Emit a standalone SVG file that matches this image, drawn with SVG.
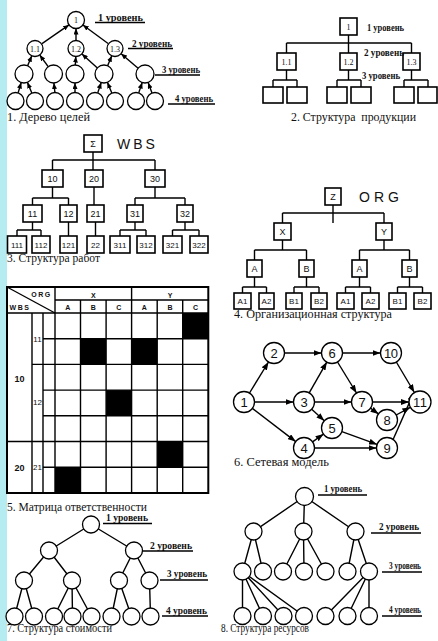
<svg xmlns="http://www.w3.org/2000/svg" width="438" height="641" viewBox="0 0 438 641">
<style>
.ln{stroke:#000;stroke-width:1.4;fill:none}
.bx{fill:#fff;stroke:#000;stroke-width:1.6}
.cr{fill:#fff;stroke:#000;stroke-width:1.3}
.ttl{font-family:"Liberation Serif",serif;font-size:12px;fill:#111;white-space:pre}
.lvl{font-family:"Liberation Serif",serif;font-size:9.5px;font-weight:bold;fill:#111}
.cl{font-family:"Liberation Serif",serif;font-size:8px;fill:#111;text-anchor:middle}
.sn{font-family:"Liberation Sans",sans-serif;font-size:9px;fill:#111;text-anchor:middle}
.s3{font-family:"Liberation Sans",sans-serif;font-size:8px;fill:#111;text-anchor:middle}
.nw{font-family:"Liberation Sans",sans-serif;font-size:13px;fill:#111;text-anchor:middle}
.big{font-family:"Liberation Sans",sans-serif;font-size:14px;fill:#111}
.hd{font-family:"Liberation Sans",sans-serif;font-size:7px;font-weight:bold;fill:#111;text-anchor:middle}
.blk{fill:#000}
</style>
<defs>
<marker id="ah" viewBox="0 0 8 6" refX="8" refY="3" markerWidth="8" markerHeight="6" markerUnits="userSpaceOnUse" orient="auto"><path d="M0,0 L8,3 L0,6 z" fill="#000"/></marker>
<marker id="ahs" viewBox="0 0 6 5" refX="6" refY="2.5" markerWidth="6" markerHeight="5" markerUnits="userSpaceOnUse" orient="auto"><path d="M0,0 L6,2.5 L0,5 z" fill="#000"/></marker>
</defs>
<rect x="0" y="0" width="438" height="641" fill="#fff"/>
<rect x="0" y="0" width="7" height="641" fill="#b4ecf1"/>

<!-- ===== Diagram 1: Дерево целей ===== -->
<g id="d1-edges" class="ln" marker-end="url(#ahs)">
<line x1="42" y1="43.6" x2="69" y2="24.9"/>
<line x1="76" y1="40" x2="76" y2="28.5"/>
<line x1="108.1" y1="43.5" x2="82.9" y2="25"/>
<line x1="27.6" y1="65.7" x2="31.8" y2="55.8"/>
<line x1="48.2" y1="66.7" x2="39.7" y2="55"/>
<line x1="75.3" y1="65" x2="75.8" y2="56.5"/>
<line x1="97.4" y1="67.9" x2="81.9" y2="53.9"/>
<line x1="107.6" y1="65.7" x2="111.8" y2="55.8"/>
<line x1="138.1" y1="68.2" x2="121.1" y2="53.7"/>
<line x1="18.1" y1="92.9" x2="21.2" y2="82.5"/>
<line x1="31.8" y1="93.1" x2="27.4" y2="82.3"/>
<line x1="54.9" y1="92.5" x2="53.9" y2="83"/>
<line x1="75" y1="92.5" x2="75" y2="83"/>
<line x1="97.7" y1="92.9" x2="101.2" y2="82.5"/>
<line x1="111.8" y1="93.1" x2="107.4" y2="82.3"/>
<line x1="138.7" y1="92.9" x2="142.2" y2="82.5"/>
<line x1="152" y1="93" x2="148.1" y2="82.6"/>
</g>
<g id="d1-n1"><circle class="cr" cx="76" cy="20" r="8.5"/><text class="cl" x="76" y="23">1</text></g>
<g id="d1-n11"><circle class="cr" cx="35" cy="48.5" r="8"/><text class="cl" x="35" y="51.5">1.1</text></g>
<g id="d1-n12"><circle class="cr" cx="76" cy="48.5" r="8"/><text class="cl" x="76" y="51.5">1.2</text></g>
<g id="d1-n13"><circle class="cr" cx="115" cy="48.5" r="8"/><text class="cl" x="115" y="51.5">1.3</text></g>
<g id="d1-l3a"><circle class="cr" cx="24" cy="74" r="9"/></g>
<g id="d1-l3b"><circle class="cr" cx="53.5" cy="74" r="9"/></g>
<g id="d1-l3c"><circle class="cr" cx="75" cy="74" r="9"/></g>
<g id="d1-l3d"><circle class="cr" cx="104" cy="74" r="9"/></g>
<g id="d1-l3e"><circle class="cr" cx="145" cy="74" r="9"/></g>
<g id="d1-l4a"><circle class="cr" cx="15.5" cy="101" r="8.5"/></g>
<g id="d1-l4b"><circle class="cr" cx="35" cy="101" r="8.5"/></g>
<g id="d1-l4c"><circle class="cr" cx="55" cy="101" r="8.5"/></g>
<g id="d1-l4d"><circle class="cr" cx="75" cy="101" r="8.5"/></g>
<g id="d1-l4e"><circle class="cr" cx="95" cy="101" r="8.5"/></g>
<g id="d1-l4f"><circle class="cr" cx="115" cy="101" r="8.5"/></g>
<g id="d1-l4g"><circle class="cr" cx="136" cy="101" r="8.5"/></g>
<g id="d1-l4h"><circle class="cr" cx="155" cy="101" r="8.5"/></g>
<g id="d1-labels">
<text class="lvl" x="98" y="20.5" textLength="45" lengthAdjust="spacingAndGlyphs">1 уровень</text><line class="ln" x1="95" y1="22.5" x2="145" y2="22.5" stroke-width="1"/>
<text class="lvl" x="132" y="46.5" textLength="40" lengthAdjust="spacingAndGlyphs">2 уровень</text><line class="ln" x1="128" y1="48.5" x2="173" y2="48.5" stroke-width="1"/>
<text class="lvl" x="162" y="73" textLength="38" lengthAdjust="spacingAndGlyphs">3 уровень</text><line class="ln" x1="155" y1="75" x2="200" y2="75" stroke-width="1"/>
<text class="lvl" x="175" y="101.5" textLength="38" lengthAdjust="spacingAndGlyphs">4 уровень</text><line class="ln" x1="168" y1="104" x2="215" y2="104" stroke-width="1"/>
<text class="ttl" x="7" y="121" textLength="83" lengthAdjust="spacingAndGlyphs">1. Дерево целей</text>
</g>

<!-- ===== Diagram 2: Структура продукции ===== -->
<g id="d2-edges" class="ln">
<path d="M348.5 35V43M286.5 43H411.5M286.5 43V53M348.5 43V53M411.5 43V53"/>
<path d="M286.5 70V80M273 80H297M273 80V87M297 80V87"/>
<path d="M348.5 70V80M337 80H361M337 80V87M361 80V87"/>
<path d="M411.5 70V80M404 80H428M404 80V87M428 80V87"/>
</g>
<g id="d2-n1"><rect class="bx" x="340" y="18" width="17" height="17"/><text class="cl" x="348.5" y="29.5">1</text></g>
<g id="d2-n11"><rect class="bx" x="277" y="53" width="19" height="17"/><text class="cl" x="286.5" y="64.5">1.1</text></g>
<g id="d2-n12"><rect class="bx" x="340" y="53" width="17" height="17"/><text class="cl" x="348.5" y="64.5">1.2</text></g>
<g id="d2-n13"><rect class="bx" x="403" y="53" width="17" height="17"/><text class="cl" x="411.5" y="64.5">1.3</text></g>
<g id="d2-l3a"><rect class="bx" x="263" y="87" width="20" height="16"/></g>
<g id="d2-l3b"><rect class="bx" x="287" y="87" width="20" height="16"/></g>
<g id="d2-l3c"><rect class="bx" x="327" y="87" width="20" height="16"/></g>
<g id="d2-l3d"><rect class="bx" x="351" y="87" width="20" height="16"/></g>
<g id="d2-l3e"><rect class="bx" x="394" y="87" width="20" height="16"/></g>
<g id="d2-l3f"><rect class="bx" x="418" y="87" width="19" height="16"/></g>
<g id="d2-labels">
<text class="lvl" x="367" y="31" textLength="37" lengthAdjust="spacingAndGlyphs">1 уровень</text>
<text class="lvl" x="364" y="55.5" textLength="40" lengthAdjust="spacingAndGlyphs">2 уровень</text>
<text class="lvl" x="362" y="79" textLength="38" lengthAdjust="spacingAndGlyphs">3 уровень</text>
<text class="ttl" x="291" y="121" textLength="125" lengthAdjust="spacingAndGlyphs">2. Структура  продукции</text>
</g>

<!-- ===== Diagram 3: WBS ===== -->
<g id="d3-edges" class="ln">
<path d="M93 152V170M52.5 160H155M52.5 160V170M155 160V170"/>
<path d="M52.5 187V198M32.5 198H68.5M32.5 198V205M68.5 198V205M94 187V205"/>
<path d="M155 187V198M135 198H185M135 198V205M185 198V205"/>
<path d="M32.5 222V230M17 230H41M17 230V236M41 230V236M68.5 222V236M95.5 222V236"/>
<path d="M135 222V230M120 230H146M120 230V236M146 230V236"/>
<path d="M185 222V230M172.5 230H199M172.5 230V236M199 230V236"/>
</g>
<g id="d3-sigma"><rect class="bx" x="84" y="135" width="18" height="17"/><text class="sn" x="93" y="147" font-family="DejaVu Sans" font-size="10">Σ</text></g>
<text class="big" x="117" y="148.5" letter-spacing="3">WBS</text>
<g id="d3-10"><rect class="bx" x="42" y="170" width="21" height="17"/><text class="sn" x="52.5" y="181.5">10</text></g>
<g id="d3-20"><rect class="bx" x="85" y="170" width="18" height="17"/><text class="sn" x="94" y="181.5">20</text></g>
<g id="d3-30"><rect class="bx" x="145" y="170" width="20" height="17"/><text class="sn" x="155" y="181.5">30</text></g>
<g id="d3-11"><rect class="bx" x="23" y="205" width="19" height="17"/><text class="sn" x="32.5" y="216.5">11</text></g>
<g id="d3-12"><rect class="bx" x="60" y="205" width="17" height="17"/><text class="sn" x="68.5" y="216.5">12</text></g>
<g id="d3-21"><rect class="bx" x="87" y="205" width="17" height="17"/><text class="sn" x="95.5" y="216.5">21</text></g>
<g id="d3-31"><rect class="bx" x="127" y="205" width="16" height="17"/><text class="sn" x="135" y="216.5">31</text></g>
<g id="d3-32"><rect class="bx" x="177" y="205" width="16" height="17"/><text class="sn" x="185" y="216.5">32</text></g>
<g id="d3-111"><rect class="bx" x="7.5" y="236" width="19" height="17"/><text class="s3" x="17" y="247.5">111</text></g>
<g id="d3-112"><rect class="bx" x="32" y="236" width="18" height="17"/><text class="s3" x="41" y="247.5">112</text></g>
<g id="d3-121"><rect class="bx" x="60" y="236" width="17" height="17"/><text class="s3" x="68.5" y="247.5">121</text></g>
<g id="d3-22"><rect class="bx" x="87" y="236" width="17" height="17"/><text class="s3" x="95.5" y="247.5">22</text></g>
<g id="d3-311"><rect class="bx" x="110" y="236" width="20" height="17"/><text class="s3" x="120" y="247.5">311</text></g>
<g id="d3-312"><rect class="bx" x="137" y="236" width="18" height="17"/><text class="s3" x="146" y="247.5">312</text></g>
<g id="d3-321"><rect class="bx" x="163" y="236" width="19" height="17"/><text class="s3" x="172.5" y="247.5">321</text></g>
<g id="d3-322"><rect class="bx" x="190" y="236" width="18" height="17"/><text class="s3" x="199" y="247.5">322</text></g>
<text class="ttl" x="7" y="262" textLength="93" lengthAdjust="spacingAndGlyphs">3. Структура работ</text>

<!-- ===== Diagram 4: ORG ===== -->
<g id="d4-edges" class="ln">
<path d="M333 205V223M282.5 213H384M282.5 213V223M384 213V223"/>
<path d="M282.5 240V250M254.5 250H306.5M254.5 250V260M306.5 250V260"/>
<path d="M384 240V250M359.5 250H409.5M359.5 250V260M409.5 250V260"/>
<path d="M254.5 277V287M242.5 287H266.5M242.5 287V293M266.5 287V293"/>
<path d="M306.5 277V287M294 287H319M294 287V293M319 287V293"/>
<path d="M359.5 277V287M345.5 287H370.5M345.5 287V293M370.5 287V293"/>
<path d="M409.5 277V287M397.5 287H422.5M397.5 287V293M422.5 287V293"/>
</g>
<g id="d4-z"><rect class="bx" x="325" y="188" width="16" height="17"/><text class="sn" x="333" y="199.5">Z</text></g>
<text class="big" x="359" y="202" font-size="16" letter-spacing="4">ORG</text>
<g id="d4-x"><rect class="bx" x="274" y="223" width="17" height="17"/><text class="sn" x="282.5" y="234.5">X</text></g>
<g id="d4-y"><rect class="bx" x="376" y="223" width="16" height="17"/><text class="sn" x="384" y="234.5">Y</text></g>
<g id="d4-xa"><rect class="bx" x="247" y="260" width="15" height="17"/><text class="sn" x="254.5" y="271.5">A</text></g>
<g id="d4-xb"><rect class="bx" x="299" y="260" width="15" height="17"/><text class="sn" x="306.5" y="271.5">B</text></g>
<g id="d4-ya"><rect class="bx" x="352" y="260" width="15" height="17"/><text class="sn" x="359.5" y="271.5">A</text></g>
<g id="d4-yb"><rect class="bx" x="402" y="260" width="15" height="17"/><text class="sn" x="409.5" y="271.5">B</text></g>
<g id="d4-xa1"><rect class="bx" x="234" y="293" width="17" height="16"/><text class="s3" x="242.5" y="304">A1</text></g>
<g id="d4-xa2"><rect class="bx" x="259" y="293" width="15" height="16"/><text class="s3" x="266.5" y="304">A2</text></g>
<g id="d4-xb1"><rect class="bx" x="286" y="293" width="16" height="16"/><text class="s3" x="294" y="304">B1</text></g>
<g id="d4-xb2"><rect class="bx" x="311" y="293" width="16" height="16"/><text class="s3" x="319" y="304">B2</text></g>
<g id="d4-ya1"><rect class="bx" x="337" y="293" width="17" height="16"/><text class="s3" x="345.5" y="304">A1</text></g>
<g id="d4-ya2"><rect class="bx" x="362" y="293" width="17" height="16"/><text class="s3" x="370.5" y="304">A2</text></g>
<g id="d4-yb1"><rect class="bx" x="389" y="293" width="17" height="16"/><text class="s3" x="397.5" y="304">B1</text></g>
<g id="d4-yb2"><rect class="bx" x="414" y="293" width="17" height="16"/><text class="s3" x="422.5" y="304">B2</text></g>
<text class="ttl" x="234" y="318" textLength="158" lengthAdjust="spacingAndGlyphs">4. Организационная структура</text>

<!-- ===== Diagram 5: Матрица ответственности ===== -->
<g id="d5-matrix">
<rect class="blk" x="182.7" y="313" width="25.6" height="25.7"/>
<rect class="blk" x="80.5" y="338.7" width="25.6" height="25.7"/>
<rect class="blk" x="131.6" y="338.7" width="25.6" height="25.7"/>
<rect class="blk" x="106.1" y="390.1" width="25.5" height="25.7"/>
<rect class="blk" x="157.2" y="441.5" width="25.5" height="25.7"/>
<rect class="blk" x="55" y="467.2" width="25.5" height="25.8"/>
<path class="ln" stroke-width="1.5" d="M55 300H208.3M7 313H208.3M43 338.7H208.3M32 364.4H208.3M43 390.1H208.3M43 415.8H208.3M7 441.5H208.3M43 467.2H208.3"/>
<path class="ln" stroke-width="1.5" d="M32 313V493M43 313V493M55 287V493M80.5 300V493M106.1 300V493M131.6 287V493M157.2 300V493M182.7 300V493"/>
<path class="ln" stroke-width="1.3" d="M7 287L55 313"/>
<rect x="7" y="287" width="201.3" height="206" fill="none" stroke="#000" stroke-width="2"/>
<text class="hd" x="41.5" y="297" letter-spacing="1.5">ORG</text>
<text class="hd" x="20" y="310" letter-spacing="1.5">WBS</text>
<text class="hd" x="93.3" y="297.5" font-size="8">X</text>
<text class="hd" x="170" y="297.5" font-size="8">Y</text>
<text class="hd" x="67.7" y="310">A</text>
<text class="hd" x="93.3" y="310">B</text>
<text class="hd" x="118.8" y="310">C</text>
<text class="hd" x="144.4" y="310">A</text>
<text class="hd" x="170" y="310">B</text>
<text class="hd" x="195.5" y="310">C</text>
<text class="sn" x="19.5" y="382" font-weight="bold" font-size="10">10</text>
<text class="sn" x="19.5" y="471" font-weight="bold" font-size="10">20</text>
<text class="s3" x="37.5" y="342" font-size="7">11</text>
<text class="s3" x="37.5" y="405" font-size="7">12</text>
<text class="s3" x="37.5" y="470" font-size="7">21</text>
</g>
<text class="ttl" x="7" y="510.5" textLength="140" lengthAdjust="spacingAndGlyphs">5. Матрица ответственности</text>

<!-- ===== Diagram 6: Сетевая модель ===== -->
<g id="d6-edges" class="ln" marker-end="url(#ah)">
<line x1="249.5" y1="393" x2="268.5" y2="362"/>
<line x1="254.5" y1="402" x2="293.5" y2="402"/>
<line x1="252.3" y1="408.4" x2="295.7" y2="441.6"/>
<line x1="284.5" y1="353" x2="321.5" y2="353"/>
<line x1="309.2" y1="392.9" x2="326.8" y2="362.1"/>
<line x1="314.5" y1="402" x2="351.5" y2="402"/>
<line x1="311.7" y1="409.2" x2="324.3" y2="420.8"/>
<line x1="342.5" y1="353" x2="380.5" y2="353"/>
<line x1="337.5" y1="362" x2="356.5" y2="393"/>
<line x1="396.3" y1="362" x2="414.4" y2="392.5"/>
<line x1="372.5" y1="402" x2="409" y2="402"/>
<line x1="370.5" y1="408.1" x2="378.5" y2="413.9"/>
<line x1="396.2" y1="415" x2="410.3" y2="407.3"/>
<line x1="393.1" y1="439.5" x2="413.6" y2="393.1"/>
<line x1="312.5" y1="441.9" x2="323.5" y2="434.1"/>
<line x1="314.5" y1="448" x2="376.5" y2="448"/>
<line x1="341.9" y1="431.6" x2="377.1" y2="444.4"/>
</g>
<g id="d6-n1"><circle class="cr" cx="244" cy="402" r="10.5"/><text class="nw" x="244" y="406.7">1</text></g>
<g id="d6-n2"><circle class="cr" cx="274" cy="353" r="10.5"/><text class="nw" x="274" y="357.7">2</text></g>
<g id="d6-n3"><circle class="cr" cx="304" cy="402" r="10.5"/><text class="nw" x="304" y="406.7">3</text></g>
<g id="d6-n4"><circle class="cr" cx="304" cy="448" r="10.5"/><text class="nw" x="304" y="452.7">4</text></g>
<g id="d6-n5"><circle class="cr" cx="332" cy="428" r="10.5"/><text class="nw" x="332" y="432.7">5</text></g>
<g id="d6-n6"><circle class="cr" cx="332" cy="353" r="10.5"/><text class="nw" x="332" y="357.7">6</text></g>
<g id="d6-n7"><circle class="cr" cx="362" cy="402" r="10.5"/><text class="nw" x="362" y="406.7">7</text></g>
<g id="d6-n8"><circle class="cr" cx="387" cy="420" r="10.5"/><text class="nw" x="387" y="424.7">8</text></g>
<g id="d6-n9"><circle class="cr" cx="387" cy="448" r="10.5"/><text class="nw" x="387" y="452.7">9</text></g>
<g id="d6-n10"><circle class="cr" cx="391" cy="353" r="10.5"/><text class="nw" x="391" y="357.7" textLength="14">10</text></g>
<g id="d6-n11"><circle class="cr" cx="420" cy="402" r="11"/><text class="nw" x="420" y="406.7" textLength="14">11</text></g>
<text class="ttl" x="234" y="466" textLength="95" lengthAdjust="spacingAndGlyphs">6. Сетевая модель</text>

<!-- ===== Diagram 7: Структура стоимости ===== -->
<g id="d7-edges" class="ln">
<path d="M91 524.5L49 550.5M91 524.5L134 550.5"/>
<path d="M49 550.5L24 580.5M49 550.5L72 580.5M134 550.5L119 580.5M134 550.5L149.5 580.5"/>
<path d="M24 580.5L14.5 616.5M24 580.5L34 616.5M72 580.5L54 616.5M72 580.5L72.5 616.5M72 580.5L91.5 616.5M119 580.5L111.5 616.5M119 580.5L131.5 616.5M149.5 580.5L150.5 616.5"/>
</g>
<g id="d7-n1"><circle class="cr" cx="91" cy="524.5" r="8.5"/></g>
<g id="d7-n2a"><circle class="cr" cx="49" cy="550.5" r="8.5"/></g>
<g id="d7-n2b"><circle class="cr" cx="134" cy="550.5" r="8.5"/></g>
<g id="d7-n3a"><circle class="cr" cx="24" cy="580.5" r="8.5"/></g>
<g id="d7-n3b"><circle class="cr" cx="72" cy="580.5" r="8.5"/></g>
<g id="d7-n3c"><circle class="cr" cx="119" cy="580.5" r="8.5"/></g>
<g id="d7-n3d"><circle class="cr" cx="149.5" cy="580.5" r="8.5"/></g>
<g id="d7-n4a"><circle class="cr" cx="14.5" cy="616.5" r="8.5"/></g>
<g id="d7-n4b"><circle class="cr" cx="34" cy="616.5" r="8.5"/></g>
<g id="d7-n4c"><circle class="cr" cx="54" cy="616.5" r="8.5"/></g>
<g id="d7-n4d"><circle class="cr" cx="72.5" cy="616.5" r="8.5"/></g>
<g id="d7-n4e"><circle class="cr" cx="91.5" cy="616.5" r="8.5"/></g>
<g id="d7-n4f"><circle class="cr" cx="111.5" cy="616.5" r="8.5"/></g>
<g id="d7-n4g"><circle class="cr" cx="131.5" cy="616.5" r="8.5"/></g>
<g id="d7-n4h"><circle class="cr" cx="150.5" cy="616.5" r="8.5"/></g>
<g id="d7-labels">
<text class="lvl" x="106" y="521.3" font-size="8.5" textLength="42" lengthAdjust="spacingAndGlyphs">1 уровень</text><line class="ln" x1="103" y1="523.5" x2="152" y2="523.5" stroke-width="1"/>
<text class="lvl" x="150" y="548.5" textLength="42" lengthAdjust="spacingAndGlyphs">2 уровень</text><line class="ln" x1="143" y1="551" x2="193" y2="551" stroke-width="1"/>
<text class="lvl" x="167" y="577" textLength="40" lengthAdjust="spacingAndGlyphs">3 уровень</text><line class="ln" x1="160" y1="580" x2="208" y2="580" stroke-width="1"/>
<text class="lvl" x="166" y="613.5" textLength="41" lengthAdjust="spacingAndGlyphs">4 уровень</text><line class="ln" x1="162" y1="616" x2="208" y2="616" stroke-width="1"/>
<text class="ttl" x="7" y="632" textLength="105" lengthAdjust="spacingAndGlyphs">7. Структура стоимости</text>
</g>

<!-- ===== Diagram 8: Структура ресурсов ===== -->
<g id="d8-edges" class="ln">
<path d="M304.5 496.5L253.5 531.5M304.5 496.5L303.5 531.5M304.5 496.5L355.5 531.5"/>
<path d="M253.5 531.5L242.5 571.5M253.5 531.5L263 571.5M303.5 531.5L283 571.5M303.5 531.5L304 571.5M303.5 531.5L325.5 571.5M355.5 531.5L347.5 571.5M355.5 531.5L369 571.5"/>
<path d="M242.5 571.5L242.5 616M242.5 571.5L263 616M242.5 571.5L283.5 616M242.5 571.5L304 616M369 571.5L325.5 616M369 571.5L347.5 616M369 571.5L369 616"/>
</g>
<g id="d8-n1"><circle class="cr" cx="304.5" cy="496.5" r="9"/></g>
<g id="d8-n2a"><circle class="cr" cx="253.5" cy="531.5" r="8.5"/></g>
<g id="d8-n2b"><circle class="cr" cx="303.5" cy="531.5" r="8.5"/></g>
<g id="d8-n2c"><circle class="cr" cx="355.5" cy="531.5" r="8.5"/></g>
<g id="d8-n3a"><circle class="cr" cx="242.5" cy="571.5" r="8.5"/></g>
<g id="d8-n3b"><circle class="cr" cx="263" cy="571.5" r="8.5"/></g>
<g id="d8-n3c"><circle class="cr" cx="283" cy="571.5" r="8.5"/></g>
<g id="d8-n3d"><circle class="cr" cx="304" cy="571.5" r="8.5"/></g>
<g id="d8-n3e"><circle class="cr" cx="325.5" cy="571.5" r="8.5"/></g>
<g id="d8-n3f"><circle class="cr" cx="347.5" cy="571.5" r="8.5"/></g>
<g id="d8-n3g"><circle class="cr" cx="369" cy="571.5" r="8.5"/></g>
<g id="d8-n4a"><circle class="cr" cx="242.5" cy="616" r="8.5"/></g>
<g id="d8-n4b"><circle class="cr" cx="263" cy="616" r="8.5"/></g>
<g id="d8-n4c"><circle class="cr" cx="283.5" cy="616" r="8.5"/></g>
<g id="d8-n4d"><circle class="cr" cx="304" cy="616" r="8.5"/></g>
<g id="d8-n4e"><circle class="cr" cx="325.5" cy="616" r="8.5"/></g>
<g id="d8-n4f"><circle class="cr" cx="347.5" cy="616" r="8.5"/></g>
<g id="d8-n4g"><circle class="cr" cx="369" cy="616" r="8.5"/></g>
<g id="d8-labels">
<text class="lvl" x="324" y="491.5" textLength="38" lengthAdjust="spacingAndGlyphs">1 уровень</text><line class="ln" x1="318" y1="495" x2="367" y2="495" stroke-width="1"/>
<text class="lvl" x="379" y="529.5" textLength="40" lengthAdjust="spacingAndGlyphs">2 уровень</text><line class="ln" x1="371" y1="533" x2="421" y2="533" stroke-width="1"/>
<text class="lvl" x="389" y="569" textLength="32" lengthAdjust="spacingAndGlyphs">3 уровень</text><line class="ln" x1="382" y1="572" x2="422" y2="572" stroke-width="1"/>
<text class="lvl" x="389" y="613" textLength="32" lengthAdjust="spacingAndGlyphs">4 уровень</text><line class="ln" x1="382" y1="616" x2="422" y2="616" stroke-width="1"/>
<text class="ttl" x="221" y="632" textLength="88" lengthAdjust="spacingAndGlyphs">8. Структура ресурсов</text>
</g>
</svg>
